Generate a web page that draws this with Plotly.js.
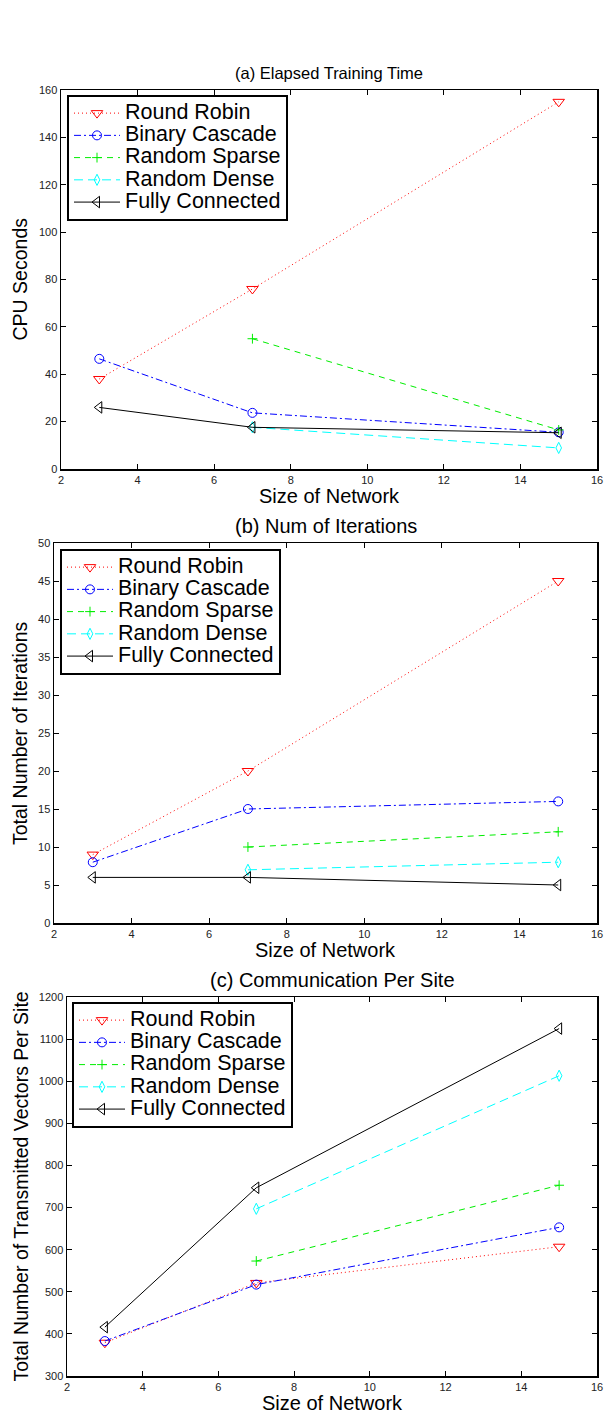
<!DOCTYPE html>
<html><head><meta charset="utf-8">
<script src="https://cdn.plot.ly/plotly-3.0.1.min.js"></script>
<style>html,body{margin:0;padding:0;background:#fff}#chart{width:605px;height:1414px}</style>
</head><body><div id="chart"></div>
<script>
// ---- data ----
const networkSizes = [3, 7, 15];
const seriesNames = ['Round Robin', 'Binary Cascade', 'Random Sparse', 'Random Dense', 'Fully Connected'];
const panelTitles = ['(a) Elapsed Training Time', '(b) Num of Iterations', '(c) Communication Per Site'];
const yAxisTitles = ['CPU Seconds', 'Total Number of Iterations', 'Total Number of Transmitted Vectors Per Site'];
const xAxisTitle = 'Size of Network';

// (a) Elapsed training time (CPU seconds)
const timeRoundRobin     = [38, 76, 155];
const timeBinaryCascade  = [46.5, 23.7, 15.5];
const timeRandomSparse   = [null, 55, 16.5];
const timeRandomDense    = [null, 17.6, 8.9];
const timeFullyConnected = [26, 17.6, 15.3];

// (b) Number of iterations
const iterRoundRobin     = [9, 20, 45];
const iterBinaryCascade  = [8, 15, 16];
const iterRandomSparse   = [null, 10, 12];
const iterRandomDense    = [null, 7, 8];
const iterFullyConnected = [6, 6, 5];

// (c) Communication per site
const commRoundRobin     = [379, 521, 607];
const commBinaryCascade  = [383, 517, 653];
const commRandomSparse   = [null, 573, 753];
const commRandomDense    = [null, 697, 1013];
const commFullyConnected = [416, 747, 1125];

const xTicks = [2, 4, 6, 8, 10, 12, 14, 16];
const yTicksA = [0, 20, 40, 60, 80, 100, 120, 140, 160];
const yTicksB = [0, 5, 10, 15, 20, 25, 30, 35, 40, 45, 50];
const yTicksC = [300, 400, 500, 600, 700, 800, 900, 1000, 1100, 1200];

// ---- styles ----
const colors = ['#ff0000', '#0000ff', '#00ee00', '#00ffff', '#000000'];
const dashes = ['1px,3px', '7px,3px,2px,3px', '6px,5px', '9px,5px', 'solid'];
const symbols = ['triangle-down-open', 'circle-open', 'cross-thin-open', 'diamond-tall-open', 'triangle-left-open'];
const markerSizes = [10, 9, 7, 8, 10];
const FONT = 'Liberation Sans, Arial, Helvetica, sans-serif';

const panels = [
  {series: [timeRoundRobin, timeBinaryCascade, timeRandomSparse, timeRandomDense, timeFullyConnected], ax: '', legend: 'legend'},
  {series: [iterRoundRobin, iterBinaryCascade, iterRandomSparse, iterRandomDense, iterFullyConnected], ax: '2', legend: 'legend2'},
  {series: [commRoundRobin, commBinaryCascade, commRandomSparse, commRandomDense, commFullyConnected], ax: '3', legend: 'legend3'}
];

const traces = [];
panels.forEach(p => {
  p.series.forEach((vals, i) => {
    traces.push({
      type: 'scatter', mode: 'lines+markers',
      x: networkSizes, y: vals,
      name: '<span style="font-size:21.5px">' + seriesNames[i] + '</span>',
      xaxis: 'x' + p.ax, yaxis: 'y' + p.ax,
      legend: p.legend,
      line: {color: colors[i], width: 1, dash: dashes[i]},
      marker: {symbol: symbols[i], size: markerSizes[i], color: colors[i], line: {width: 1, color: colors[i]}},
      hoverinfo: 'x+y+name'
    });
  });
});

const W = 605, H = 1414;
function axisBase(extra) {
  return Object.assign({
    showgrid: false, zeroline: false, showline: true, linecolor: '#000', linewidth: 1.5,
    mirror: 'ticks', ticks: 'inside', ticklen: 5, tickwidth: 1, tickcolor: '#000',
    tickfont: {family: FONT, size: 11, color: '#222'}, fixedrange: true
  }, extra);
}
// pixel boxes of the three plot areas
const boxes = [
  {l: 61, r: 597, t: 90, b: 469},
  {l: 54, r: 597, t: 543, b: 923},
  {l: 67, r: 597, t: 997, b: 1376}
];
const yRanges = [[0, 160], [0, 50], [300, 1200]];
const yTickSets = [yTicksA, yTicksB, yTicksC];

const layout = {
  width: W, height: H, margin: {l: 0, r: 0, t: 0, b: 0},
  paper_bgcolor: '#fff', plot_bgcolor: '#fff',
  font: {family: FONT, color: '#000'},
  showlegend: true,
  annotations: []
};
const legendTops = [95, 549, 1002];
const legendLefts = [67, 60, 72];
boxes.forEach((b, k) => {
  const sfx = k === 0 ? '' : String(k + 1);
  layout['xaxis' + sfx] = axisBase({
    domain: [b.l / W, b.r / W], range: [2, 16], tickvals: xTicks, ticktext: xTicks.map(String),
    anchor: 'y' + sfx
  });
  layout['yaxis' + sfx] = axisBase({
    domain: [1 - b.b / H, 1 - b.t / H], range: yRanges[k], tickvals: yTickSets[k], ticktext: yTickSets[k].map(String),
    anchor: 'x' + sfx
  });
  const lg = k === 0 ? 'legend' : 'legend' + (k + 1);
  layout[lg] = {
    x: legendLefts[k] / W, y: 1 - legendTops[k] / H, xanchor: 'left', yanchor: 'top',
    bgcolor: '#fff', bordercolor: '#000', borderwidth: 2,
    font: {family: FONT, size: 14.8, color: '#000'}, itemwidth: 46, tracegroupgap: 0
  };
  // panel title
  layout.annotations.push({
    text: panelTitles[k], xref: 'paper', yref: 'paper', showarrow: false,
    x: (b.l + b.r) / 2 / W, y: 1 - (b.t - 17) / H, xanchor: 'center', yanchor: 'middle',
    font: {family: FONT, size: k === 0 ? 16.5 : 20, color: '#000'}
  });
  // x axis title
  layout.annotations.push({
    text: xAxisTitle, xref: 'paper', yref: 'paper', showarrow: false,
    x: (b.l + b.r) / 2 / W, y: 1 - (b.b + 27) / H, xanchor: 'center', yanchor: 'middle',
    font: {family: FONT, size: 20, color: '#000'}
  });
  // y axis title
  layout.annotations.push({
    text: yAxisTitles[k], xref: 'paper', yref: 'paper', showarrow: false, textangle: -90,
    x: 20 / W, y: 1 - (b.t + b.b) / 2 / H, xanchor: 'center', yanchor: 'middle',
    font: {family: FONT, size: 19.5, color: '#000'}
  });
});

Plotly.newPlot('chart', traces, layout, {displayModeBar: false, staticPlot: true});
</script>
</body></html>
